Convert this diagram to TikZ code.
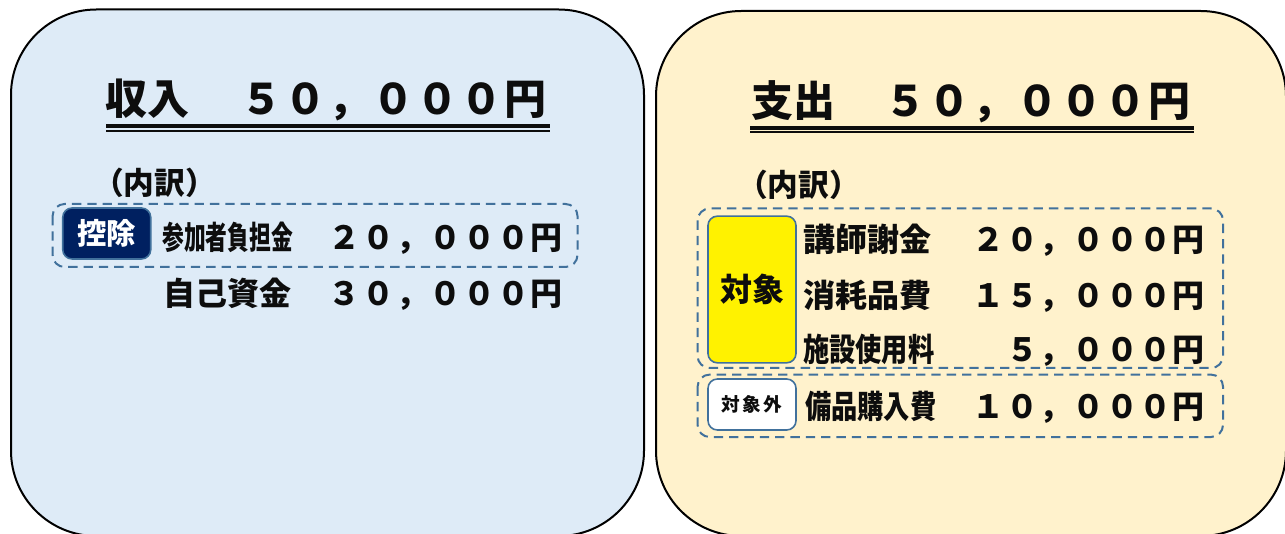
\documentclass[tikz,border=0pt]{standalone}
\usepackage{fontspec}
\usepackage{graphicx}
\newfontfamily\jp{Noto Sans CJK JP}
\definecolor{leftfill}{HTML}{DEEBF7}
\definecolor{rightfill}{HTML}{FFF2CC}
\definecolor{dashc}{HTML}{41719C}
\definecolor{navy}{HTML}{002060}
\definecolor{txt}{HTML}{0D0D0D}
\def\gapped#1#2{\def\gapamt{#1}\gaploop#2\relax\unskip}
\def\gaploop#1{\ifx#1\relax\else#1\hspace{\gapamt}\expandafter\gaploop\fi}
\tikzset{
  panel/.style={draw=black, line width=1.5pt, rounded corners=64pt},
  dbox/.style={draw=dashc, line width=1.5pt, dash pattern=on 7pt off 4.5pt, rounded corners=9pt},
  ttl/.style={font=\jp\bfseries\fontsize{31.5}{31.5}\selectfont, text=txt, inner sep=0pt},
  lbl/.style={font=\jp\bfseries\fontsize{24}{24}\selectfont, text=txt, inner sep=0pt, anchor=base west},
  num/.style={font=\jp\bfseries\fontsize{24}{24}\selectfont, text=txt, inner sep=0pt, anchor=base east},
  sub/.style={font=\jp\bfseries\fontsize{23}{23}\selectfont, text=txt, inner sep=0pt, anchor=base west},
  tagbox/.style={draw=dashc, line width=1.2pt, rounded corners=7pt, inner sep=0pt, minimum width=66pt},
}
\begin{document}
\begin{tikzpicture}[x=0.75pt,y=-0.75pt]
\useasboundingbox (0,0) rectangle (1285,534);
\clip (0,0) rectangle (1285,534);
% panels
\draw[panel, fill=leftfill] (11,9.5) rectangle (644,536);
\draw[panel, fill=rightfill] (656,11) rectangle (1286,536);
% left title
\node[ttl, anchor=base west] (t1a) at (105,115) {収入};
\node[ttl, anchor=base east] (t1b) at (547,115) {\gapped{1.5pt}{５０，０００円}};
\draw[line width=3pt, txt] (106,126.3) -- (550,126.3);
\draw[line width=1.65pt, txt] (106,130.7) -- (550,130.7);
\node[sub] (u1) at (93,195) {（内訳）};
% left items
\draw[dbox] (52.6,204) rectangle (577.5,267);
\node[tagbox, fill=navy, text=white, minimum height=38.25pt, font=\jp\bfseries\fontsize{22}{22}\selectfont] (kj) at (106.75,233.5) {控除};
\node[lbl] (l1) at (162,250) {\scalebox{0.68}[1]{参加者負担金}};
\node[num] (n1) at (563,250) {\gapped{1.25pt}{２０，０００円}};
\node[lbl] (l2) at (163,306) {自己資金};
\node[num] (n2) at (563,306) {\gapped{1.25pt}{３０，０００円}};
% right title
\node[ttl, anchor=base west] (t2a) at (751,117) {支出};
\node[ttl, anchor=base east] (t2b) at (1191,117) {\gapped{1.5pt}{５０，０００円}};
\draw[line width=3pt, txt] (750,128) -- (1194,128);
\draw[line width=1.65pt, txt] (750,132.4) -- (1194,132.4);
\node[sub] (u2) at (737,197) {（内訳）};
% right items
\draw[dbox] (697.6,208.5) rectangle (1223,368);
\draw[dbox] (697.6,374.6) rectangle (1223,437);
\node[tagbox, fill=yellow, minimum height=110pt, font=\jp\bfseries\fontsize{24}{24}\selectfont, text=txt] (tz) at (752,289.5) {対象};
\node[tagbox, fill=white, minimum height=38.25pt, font=\jp\bfseries\fontsize{14}{14}\selectfont, text=txt] (tzg) at (752,404.5) {\gapped{2pt}{対象外}};
\node[lbl] (r1) at (803,252) {講師謝金};
\node[num] (m1) at (1205,252) {\gapped{1pt}{２０，０００円}};
\node[lbl] (r2) at (803,308) {消耗品費};
\node[num] (m2) at (1205,308) {\gapped{1pt}{１５，０００円}};
\node[lbl] (r3) at (803,362) {\scalebox{0.82}[1]{施設使用料}};
\node[num] (m3) at (1205,362) {\gapped{1pt}{５，０００円}};
\node[lbl] (r4) at (805,419) {\scalebox{0.82}[1]{備品購入費}};
\node[num] (m4) at (1205,419) {\gapped{1pt}{１０，０００円}};
\end{tikzpicture}
\end{document}
